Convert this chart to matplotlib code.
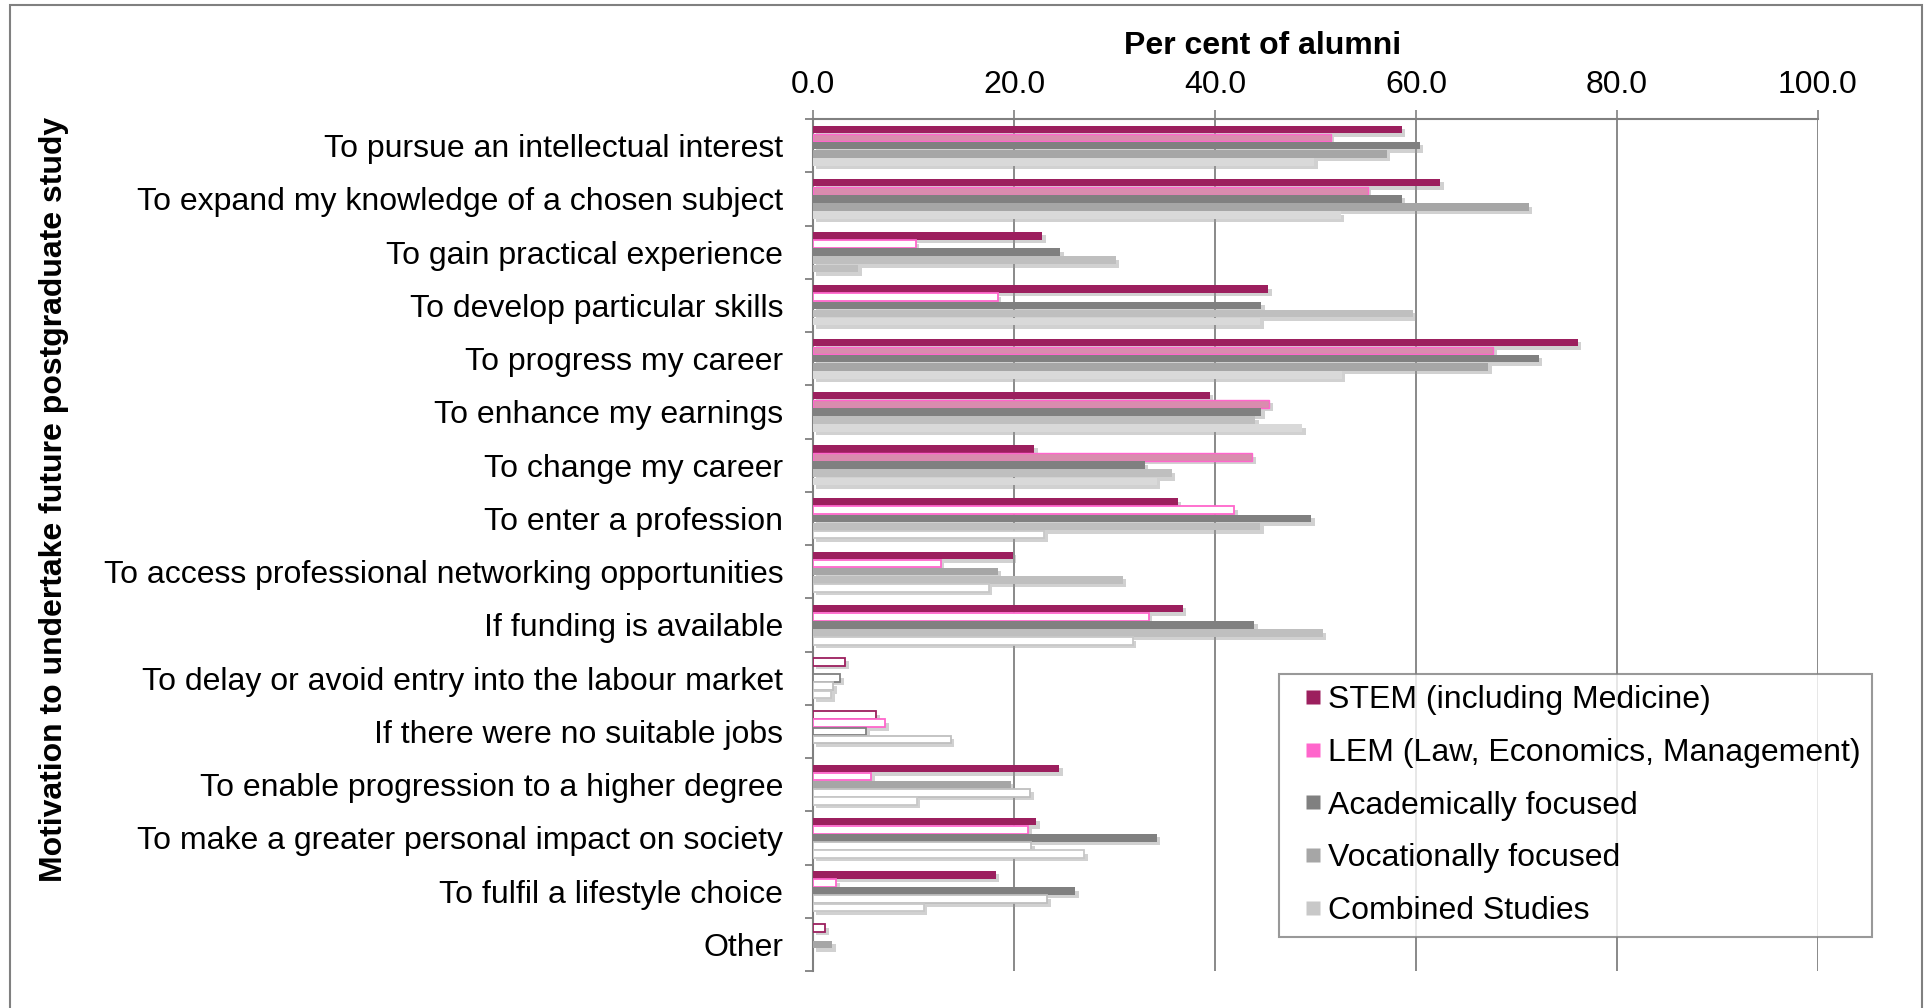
import numpy as np
import matplotlib
matplotlib.use("Agg")
from matplotlib import pyplot as plt
from matplotlib import patheffects as pe
from matplotlib.patches import Rectangle
from matplotlib.lines import Line2D
from matplotlib.ticker import FormatStrFormatter, FixedLocator

plt.rcParams['font.family'] = ['Liberation Sans', 'DejaVu Sans']

nan = np.nan
cats = ["To pursue an intellectual interest",
        "To expand my knowledge of a chosen subject",
        "To gain practical experience",
        "To develop particular skills",
        "To progress my career",
        "To enhance my earnings",
        "To change my career",
        "To enter a profession",
        "To access professional networking opportunities",
        "If funding is available",
        "To delay or avoid entry into the labour market",
        "If there were no suitable jobs",
        "To enable progression to a higher degree",
        "To make a greater personal impact on society",
        "To fulfil a lifestyle choice",
        "Other"]

series = ["STEM (including Medicine)",
          "LEM (Law, Economics, Management)",
          "Academically focused",
          "Vocationally focused",
          "Combined Studies"]

stem = [58.6, 62.4, 22.8, 45.3, 76.1, 39.5, 22.0, 36.3, 19.9, 36.8, 3.2, 6.3, 24.5, 22.2, 18.2, 1.2]
lem = [51.5, 55.2, 10.2, 18.4, 67.7, 45.4, 43.7, 41.9, 12.7, 33.4, nan, 7.2, 5.8, 21.4, 2.3, nan]
acad = [60.4, 58.6, 24.6, 44.6, 72.2, 44.6, 33.0, 49.6, 18.4, 43.9, 2.7, 5.3, 19.7, 34.2, 26.1, 1.9]
voc = [57.1, 71.2, 30.1, 59.7, 67.2, 44.0, 35.7, 44.5, 30.8, 50.7, 2.0, 13.7, 21.6, 21.7, 23.3, nan]
comb = [49.9, 52.5, 4.5, 44.5, 52.6, 48.7, 34.2, 23.0, 17.5, 31.8, 1.8, nan, 10.3, 27.0, 11.0, nan]

# f = normal fill, l = alternate shade, h = hollow (white)
stem_style = "ffffffffffhhfffh"
lem_style = "ffhhfffhhhhhhhhh"
acad_style = "fffffffflfhhlffl"
voc_style = "ffllflllllhhhhhh"
comb_style = "fflffffhhhhhhhhh"

values = [stem, lem, acad, voc, comb]
styles = [stem_style, lem_style, acad_style, voc_style, comb_style]
fills = [{'f': '#9c1f5e', 'l': '#9c1f5e'},
         {'f': '#d98cae', 'l': '#d98cae'},
         {'f': '#808080', 'l': '#a6a6a6'},
         {'f': '#a6a6a6', 'l': '#bfbfbf'},
         {'f': '#d9d9d9', 'l': '#bfbfbf'}]
edges = ['#9c1f5e', '#ff66cc', '#808080', '#bfbfbf', '#c8c8c8']
legend_cols = ['#9c1f5e', '#ff66cc', '#808080', '#a6a6a6', '#c8c8c8']

fig = plt.figure(figsize=(19.28, 10.08), dpi=100)
ax = fig.add_axes([813 / 1928, 1 - 971 / 1008, 1005 / 1928, (971 - 119) / 1008])

y = np.arange(len(cats))
step = 0.1525
bh = 0.145
shadow = [pe.SimplePatchShadow(offset=(2.5, -2.5), shadow_rgbFace='#9a9a9a', alpha=0.45), pe.Normal()]

for k in range(5):
    for i in range(len(cats)):
        v = values[k][i]
        if np.isnan(v):
            continue
        st = styles[k][i]
        if st == 'h':
            fc, ec, lw = 'white', edges[k], 1.3
        else:
            fc = fills[k][st]
            ec = edges[k] if k == 1 else fc
            lw = 1.0 if k == 1 else 0
        b = ax.barh(y[i] + (k - 2) * step, v, height=bh, color=fc, edgecolor=ec,
                    linewidth=lw, zorder=3)
        for p in b:
            p.set_path_effects(shadow)

ax.set_xlim(0, 100)
ax.set_ylim(len(cats) - 0.5, -0.5)
ax.xaxis.set_major_locator(FixedLocator([0, 20, 40, 60, 80, 100]))
ax.xaxis.set_major_formatter(FormatStrFormatter('%.1f'))
ax.xaxis.tick_top()
ax.xaxis.set_label_position('top')
ax.tick_params(axis='x', which='major', length=6.5, width=1.2, color='#808080',
               labelsize=23, pad=7)
ax.grid(axis='x', color='#808080', linewidth=1.3, zorder=0)

ax.set_yticks(y)
ax.set_yticklabels(cats, fontsize=23)
ax.set_yticks(np.arange(-0.5, len(cats), 1), minor=True)
ax.tick_params(axis='y', which='major', length=0, pad=21.5)
ax.tick_params(axis='y', which='minor', length=6, width=1.3, color='#808080')

for s in ['right', 'bottom']:
    ax.spines[s].set_visible(False)
for s in ['left', 'top']:
    ax.spines[s].set_color('#808080')
    ax.spines[s].set_linewidth(1.5)

fig.text(1263 / 1928, 1 - 46 / 1008, "Per cent of alumni", fontsize=23,
         fontweight='bold', ha='center', va='center')
fig.text(54 / 1928, 1 - 499 / 1008, "Motivation to undertake future postgraduate study",
         fontsize=23, fontweight='bold', rotation=90, ha='center', va='center')

handles = [Line2D([], [], marker='s', linestyle='none', markersize=10,
                  markerfacecolor=c, markeredgecolor='none') for c in legend_cols]
leg = ax.legend(handles, series, loc='upper left',
                bbox_to_anchor=(1279 / 1928, 1 - 674 / 1008),
                bbox_transform=fig.transFigure, fontsize=23, frameon=True,
                fancybox=False, handlelength=1.42, handletextpad=-0.23,
                labelspacing=0.71, borderpad=0.35, borderaxespad=0)
leg.get_frame().set_edgecolor('#808080')
leg.get_frame().set_linewidth(1.5)
leg.set_zorder(5)

# outer chart border
fig.patches.append(Rectangle((10 / 1928, -0.01), (1922 - 10) / 1928, 1.01 - 5 / 1008,
                             transform=fig.transFigure, fill=False,
                             edgecolor='#808080', linewidth=1.5))

fig.savefig("out.png", dpi=100)
